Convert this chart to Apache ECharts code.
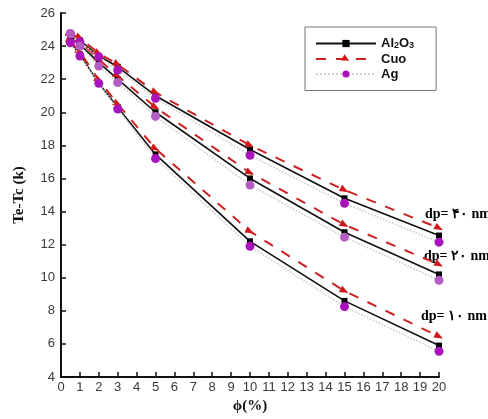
<!DOCTYPE html>
<html>
<head>
<meta charset="utf-8">
<script src="https://cdn.jsdelivr.net/npm/echarts@6/dist/echarts.min.js"></script>
<style>
  html, body { margin: 0; padding: 0; background: #fff; }
  #chart { width: 488px; height: 419px; }
</style>
</head>
<body>
<div id="chart"></div>
<script>
// Volume fraction (%) of nanoparticles
const phi = [0.5, 1, 2, 3, 5, 10, 15, 20];

// Te - Tc (K) for particle diameter 40 nm
const al2o3_40 = [24.6, 24.35, 23.4, 22.75, 21.0, 17.75, 14.8, 12.55];
const cuo_40   = [24.7, 24.5, 23.55, 22.9, 21.2, 18.0, 15.3, 13.0];
const ag_40    = [24.75, 24.25, 23.35, 22.55, 20.85, 17.4, 14.5, 12.15];

// Te - Tc (K) for particle diameter 20 nm
const al2o3_20 = [24.6, 24.1, 23.0, 22.0, 20.0, 16.0, 12.75, 10.2];
const cuo_20   = [24.7, 24.3, 23.2, 22.2, 20.3, 16.35, 13.2, 10.8];
const ag_20    = [24.75, 24.0, 22.8, 21.8, 19.75, 15.6, 12.45, 9.85];

// Te - Tc (K) for particle diameter 10 nm
const al2o3_10 = [24.2, 23.5, 21.75, 20.3, 17.45, 12.2, 8.6, 5.9];
const cuo_10   = [24.3, 23.65, 21.95, 20.5, 17.8, 12.8, 9.2, 6.45];
const ag_10    = [24.2, 23.4, 21.75, 20.2, 17.2, 11.9, 8.25, 5.55];

const fluids = ['Al2O3', 'Cuo', 'Ag'];
const sizeLabels = ['dp= ۴۰ nm', 'dp= ۲۰ nm', 'dp= ۱۰ nm'];

const pairs = ys => phi.map((x, i) => [x, ys[i]]);

const styles = {
  Al2O3: {
    symbol: 'rect', symbolSize: 6, z: 3,
    itemStyle: { color: '#000' },
    lineStyle: { color: '#111', width: 1.6, type: 'solid' }
  },
  Cuo: {
    symbol: 'triangle', symbolSize: [7, 9], symbolRotate: -118, z: 4,
    itemStyle: { color: '#d01818' },
    lineStyle: { color: '#cc2222', width: 2, type: [10, 10] }
  },
  Ag: {
    symbol: 'circle', symbolSize: 9, z: 5,
    itemStyle: { color: '#a912bd' },
    lineStyle: { color: '#cfcfcf', width: 1.6, type: 'dotted' }
  }
};

const groups = [
  { Al2O3: al2o3_40, Cuo: cuo_40, Ag: ag_40, agColor: '#a912bd' },
  { Al2O3: al2o3_20, Cuo: cuo_20, Ag: ag_20, agColor: '#b35cc4' },
  { Al2O3: al2o3_10, Cuo: cuo_10, Ag: ag_10, agColor: '#a912bd' }
];

const series = [];
groups.forEach(g => {
  ['Ag', 'Al2O3', 'Cuo'].forEach(f => {
    const s = styles[f];
    series.push({
      name: f,
      type: 'line',
      data: pairs(g[f]),
      symbol: s.symbol,
      symbolSize: s.symbolSize,
      symbolRotate: s.symbolRotate,
      symbolKeepAspect: true,
      showAllSymbol: true,
      z: s.z,
      itemStyle: f === 'Ag' ? { color: g.agColor } : s.itemStyle,
      lineStyle: s.lineStyle,
      animation: false
    });
  });
});

const chart = echarts.init(document.getElementById('chart'), null, { renderer: 'canvas' });

const tickFont = { fontFamily: 'Liberation Sans, Arial, sans-serif', fontSize: 13, color: '#3a3a3a' };
const serifBold = { fontFamily: 'Liberation Serif, Times New Roman, serif', fontWeight: 'bold', fontSize: 15, color: '#111' };

chart.setOption({
  animation: false,
  backgroundColor: '#fff',
  grid: { left: 61, right: 49, top: 13, bottom: 36, containLabel: false },
  xAxis: {
    type: 'value', min: 0, max: 20, interval: 1,
    name: 'ϕ(%)', nameLocation: 'middle', nameGap: 22,
    nameTextStyle: serifBold,
    axisLine: { onZero: false, lineStyle: { color: '#111', width: 2 } },
    axisTick: { inside: true, length: 5, lineStyle: { color: '#111', width: 1.5 } },
    axisLabel: Object.assign({ margin: 4 }, tickFont),
    splitLine: { show: false }
  },
  yAxis: {
    type: 'value', min: 4, max: 26, interval: 2,
    name: 'Te-Tc (k)', nameLocation: 'middle', nameGap: 34,
    nameTextStyle: serifBold,
    axisLine: { show: true, lineStyle: { color: '#111', width: 2 } },
    axisTick: { show: true, inside: true, length: 5, lineStyle: { color: '#111', width: 1.5 } },
    axisLabel: Object.assign({ margin: 6 }, tickFont),
    splitLine: { show: false }
  },
  legend: {
    data: fluids,
    orient: 'vertical',
    left: 305, top: 27,
    itemWidth: 60, itemHeight: 9, itemGap: 2,
    padding: [10, 22, 10, 10],
    borderColor: '#777', borderWidth: 1,
    backgroundColor: '#fff',
    selectedMode: false,
    formatter: name => name === 'Al2O3' ? '{b|Al}{s|2}{b|O}{s|3}' : '{b|' + name + '}',
    textStyle: {
      rich: {
        b: { fontFamily: 'Liberation Sans, Arial, sans-serif', fontWeight: 'bold', fontSize: 13, color: '#111', lineHeight: 14 },
        s: { fontFamily: 'Liberation Sans, Arial, sans-serif', fontWeight: 'bold', fontSize: 9, color: '#111', lineHeight: 14, verticalAlign: 'bottom' }
      }
    }
  },
  graphic: [
    { type: 'text', left: 425, top: 207, style: Object.assign({ text: sizeLabels[0] }, serifBold, { fontSize: 14 }) },
    { type: 'text', left: 424, top: 249, style: Object.assign({ text: sizeLabels[1] }, serifBold, { fontSize: 14 }) },
    { type: 'text', left: 421, top: 309, style: Object.assign({ text: sizeLabels[2] }, serifBold, { fontSize: 14 }) }
  ],
  series: series
});
</script>
</body>
</html>
